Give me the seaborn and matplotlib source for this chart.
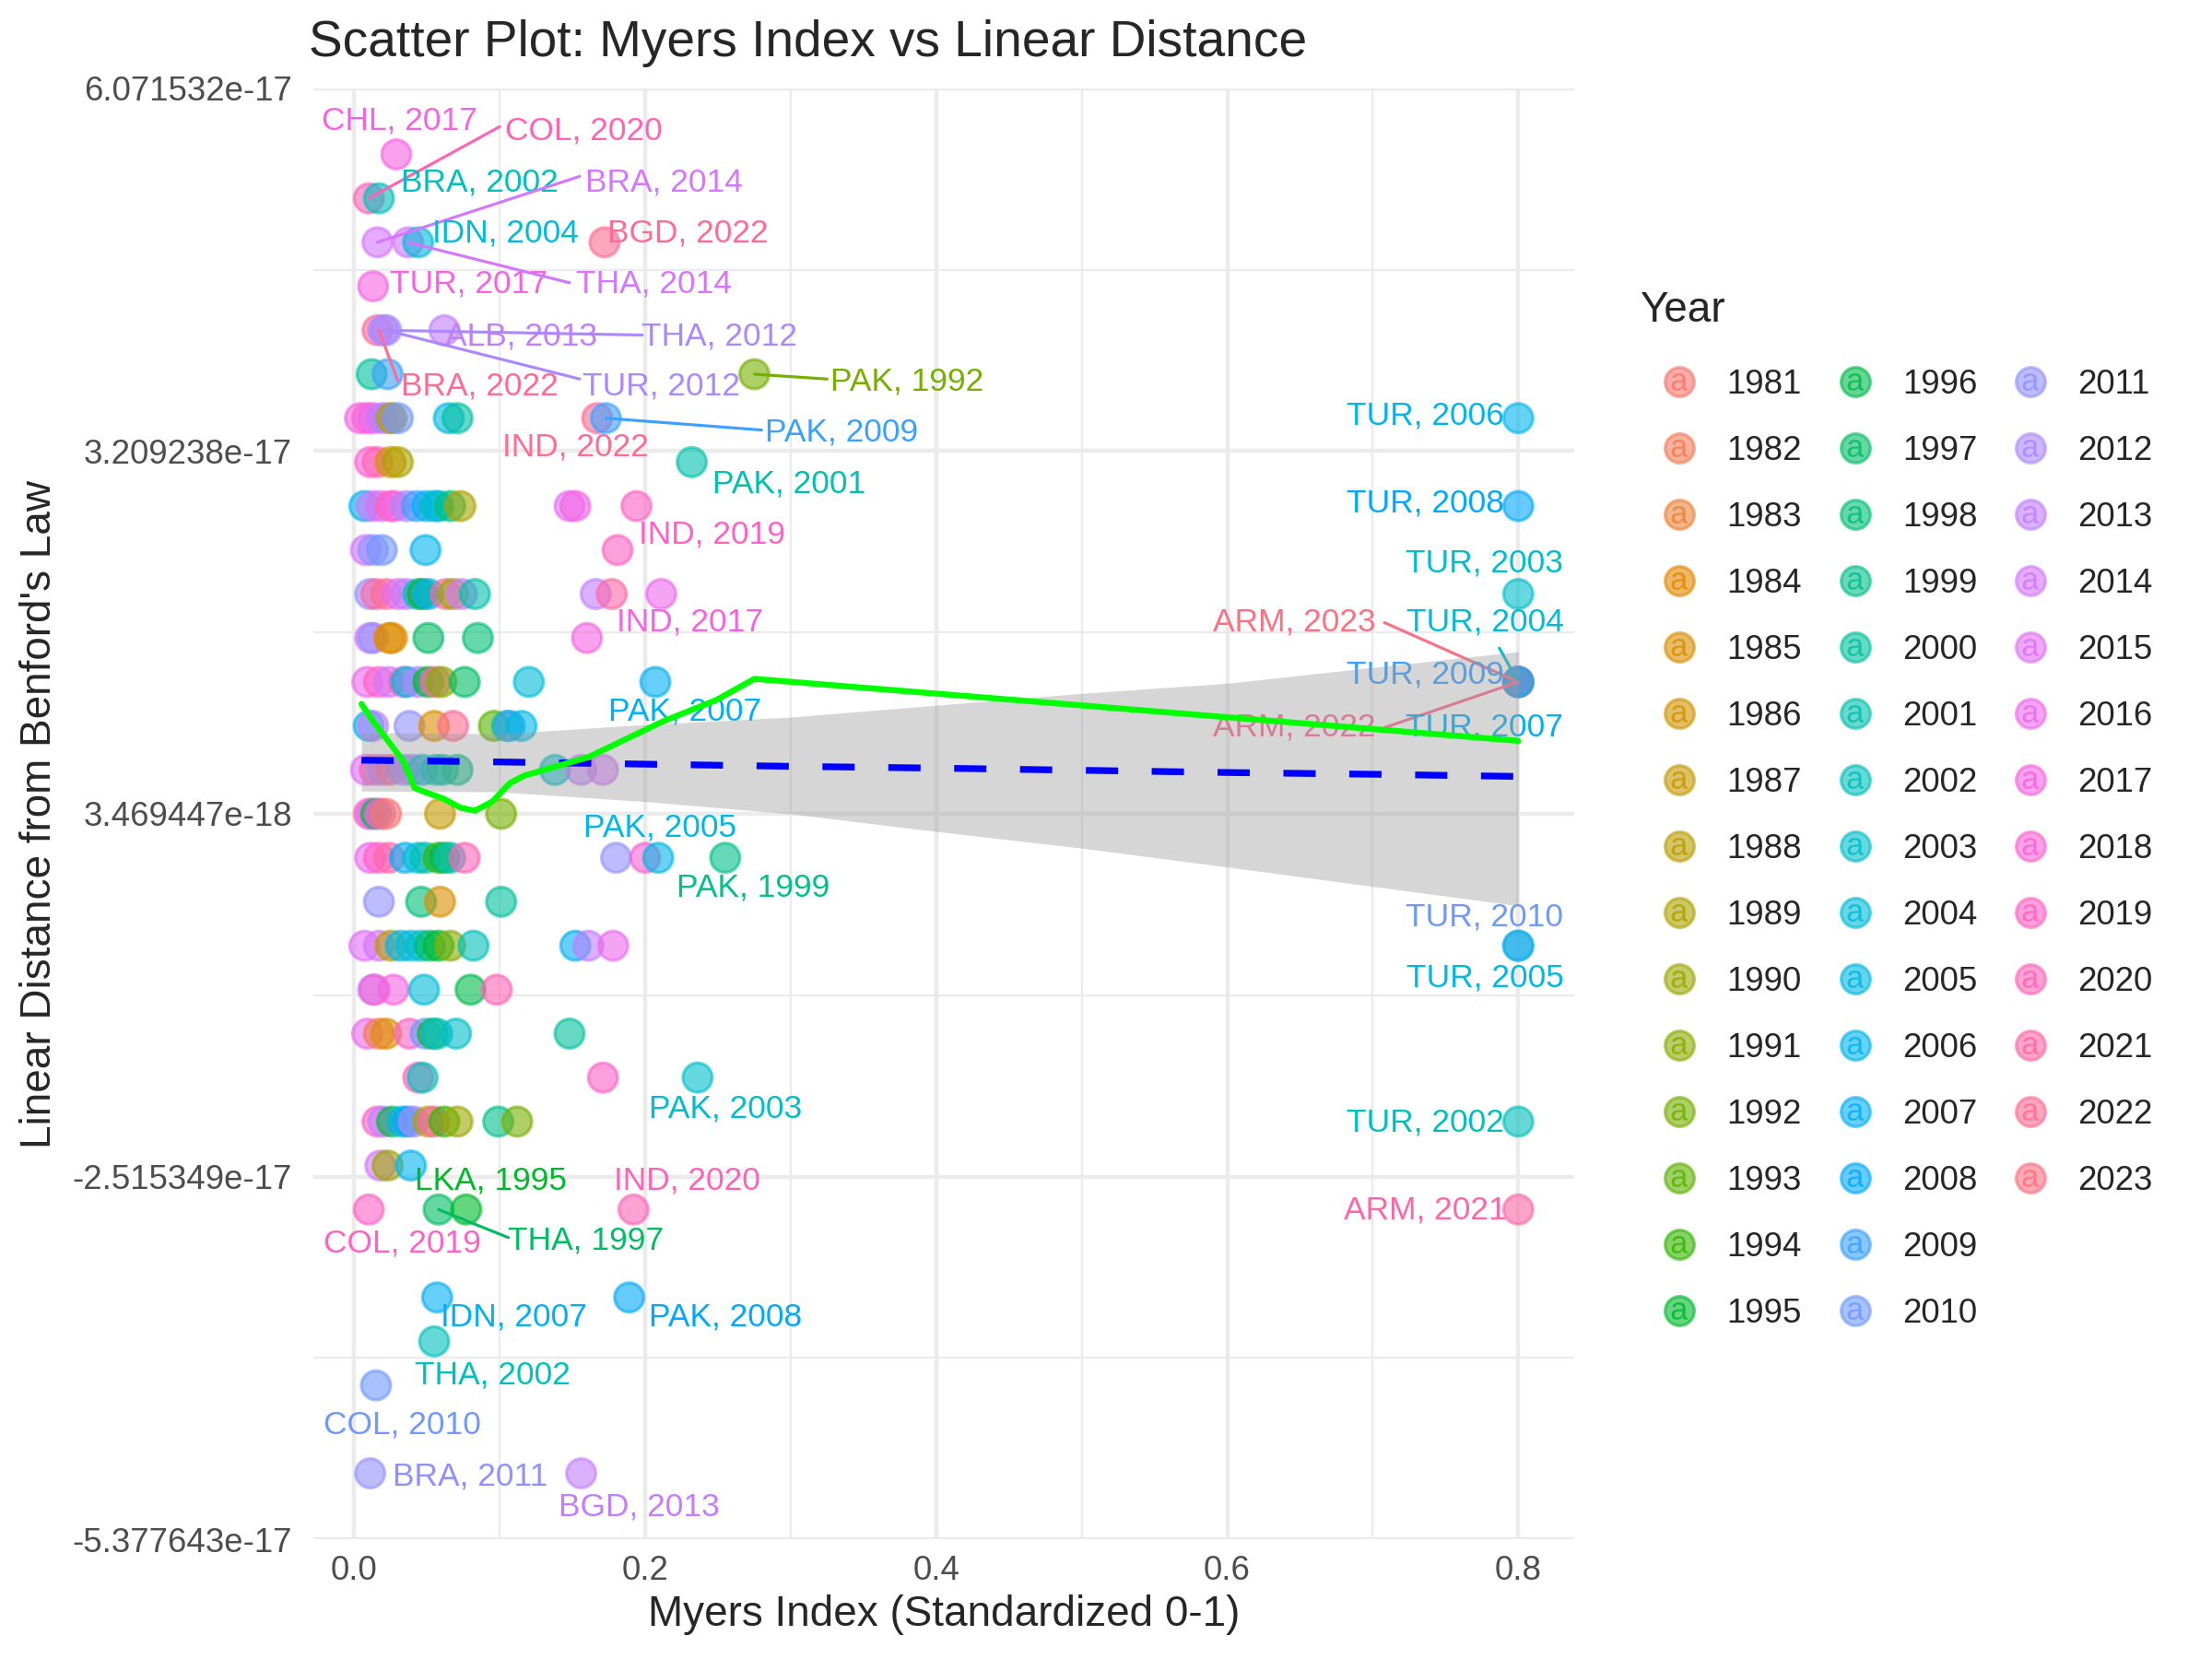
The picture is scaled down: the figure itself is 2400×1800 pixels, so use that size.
import numpy as np
import pandas as pd
import matplotlib
matplotlib.use("Agg")
import matplotlib.pyplot as plt
import seaborn as sns
from matplotlib.lines import Line2D
from matplotlib.legend_handler import HandlerTuple
from matplotlib.ticker import FixedLocator, FixedFormatter

# distances are tiny float-noise values, all multiples of 2^-58
UNIT = 2.0 ** -58

# one line per distance level (in units of 2^-58)
myers_index = [
    0.029,
    0.010, 0.017,
    0.016, 0.037, 0.044, 0.172,
    0.013,
    0.016, 0.020, 0.022, 0.062,
    0.012, 0.023, 0.275,
    0.004, 0.009, 0.013, 0.019, 0.024, 0.026, 0.030, 0.065, 0.071, 0.167, 0.173,
    0.011, 0.016, 0.025, 0.030, 0.232,
    0.007, 0.012, 0.018, 0.025, 0.028, 0.036, 0.043, 0.050, 0.056, 0.058, 0.066, 0.073, 0.148, 0.152, 0.194,
    0.008, 0.013, 0.019, 0.049, 0.181,
    0.011, 0.015, 0.022, 0.030, 0.036, 0.044, 0.047, 0.051, 0.063, 0.068, 0.074, 0.083, 0.166, 0.177, 0.211,
    0.011, 0.013, 0.024, 0.026, 0.051, 0.085, 0.160,
    0.009, 0.017, 0.024, 0.034, 0.036, 0.044, 0.051, 0.056, 0.060, 0.076, 0.120, 0.207,
    0.010, 0.013, 0.038, 0.055, 0.068, 0.096, 0.105, 0.107, 0.115,
    0.008, 0.014, 0.020, 0.025, 0.034, 0.040, 0.047, 0.056, 0.061, 0.071, 0.138, 0.156, 0.171,
    0.010, 0.012, 0.015, 0.018, 0.022, 0.059, 0.101,
    0.011, 0.017, 0.024, 0.035, 0.044, 0.049, 0.058, 0.062, 0.066, 0.076, 0.180, 0.200, 0.209, 0.255,
    0.017, 0.046, 0.059, 0.101,
    0.007, 0.017, 0.025, 0.032, 0.039, 0.046, 0.052, 0.058, 0.066, 0.082, 0.152, 0.161, 0.178,
    0.013, 0.014, 0.027, 0.048, 0.080, 0.098,
    0.009, 0.017, 0.022, 0.038, 0.049, 0.054, 0.057, 0.070, 0.148,
    0.044, 0.047, 0.171, 0.236,
    0.016, 0.020, 0.026, 0.033, 0.037, 0.041, 0.051, 0.055, 0.062, 0.071, 0.099, 0.112,
    0.018, 0.023, 0.039,
    0.010, 0.058, 0.077, 0.192,
    0.057, 0.189,
    0.055,
    0.015,
    0.011, 0.156,
    0.8, 0.8, 0.8, 0.8, 0.8, 0.8, 0.8, 0.8, 0.8, 0.8, 0.8, 0.8,
]

dist_level = (
    [16] * 1 + [15] * 2 + [14] * 4 + [13] * 1 + [12] * 4 + [11] * 3 + [10] * 11 + [9] * 5
    + [8] * 15 + [7] * 5 + [6] * 15 + [5] * 7 + [4] * 12 + [3] * 9 + [2] * 13 + [1] * 7
    + [0] * 14 + [-1] * 4 + [-2] * 13 + [-3] * 6 + [-4] * 9 + [-5] * 4 + [-6] * 12
    + [-7] * 3 + [-8] * 4 + [-10] * 2 + [-11] * 1 + [-12] * 1 + [-14] * 2
    + [10, 8, 6, 4, 4, 4, 4, 4, -2, -2, -6, -8]
)

year = [
    2017,
    2020, 2002,
    2014, 2014, 2004, 2022,
    2017,
    2022, 2012, 2012, 2013,
    2000, 2009, 1992,
    2017, 2018, 2016, 2013, 2011, 1988, 2010, 2005, 2000, 2022, 2009,
    2018, 2020, 1986, 1989, 2001,
    2006, 2013, 2015, 2020, 2017, 2012, 2009, 2007, 2001, 2005, 1998, 1989, 2015, 2017, 2019,
    2014, 2011, 2010, 2006, 2019,
    2011, 2021, 2022, 2015, 2013, 2003, 1995, 2007, 2021, 1990, 2014, 2001, 2013, 2021, 2016,
    2014, 2011, 1984, 1985, 1997, 1998, 2017,
    2016, 2019, 2014, 2020, 2005, 2012, 1995, 2021, 1991, 1997, 2004, 2007,
    2006, 2013, 2011, 1985, 2022, 1993, 2000, 2009, 2005,
    2015, 2019, 2013, 2022, 2011, 2012, 2003, 2002, 2000, 1999, 2003, 2013, 2014,
    2020, 2016, 1996, 2018, 1981, 1987, 1992,
    2016, 2019, 2021, 2007, 2004, 2001, 1994, 1996, 2002, 2020, 2011, 2018, 2005, 1999,
    2011, 1998, 1985, 2000,
    2015, 2014, 1988, 2006, 2004, 2003, 1997, 1995, 1991, 2002, 2007, 2013, 2016,
    2012, 2018, 2017, 2004, 1996, 2020,
    2016, 1982, 1985, 2019, 2010, 1996, 2002, 2003, 2000,
    2020, 2002, 2019, 2003,
    2019, 2013, 1996, 2005, 2008, 2012, 1988, 2021, 1994, 1990, 1999, 1992,
    2014, 1990, 2006,
    2019, 1997, 1995, 2020,
    2007, 2008,
    2002,
    2010,
    2011, 2013,
    2006, 2008, 2003, 2004, 2009, 2023, 2022, 2007, 2010, 2005, 2002, 2021,
]

years_all = list(range(1981, 2024))

# labelled points: text, year
label_text = ["CHL, 2017", "COL, 2020", "BRA, 2002", "BRA, 2014", "IDN, 2004", "BGD, 2022",
              "TUR, 2017", "THA, 2014", "ALB, 2013", "THA, 2012", "BRA, 2022", "TUR, 2012",
              "PAK, 1992", "PAK, 2009", "IND, 2022", "PAK, 2001", "IND, 2019", "IND, 2017",
              "PAK, 2007", "PAK, 2005", "PAK, 1999", "PAK, 2003", "LKA, 1995", "IND, 2020",
              "COL, 2019", "THA, 1997", "IDN, 2007", "PAK, 2008", "THA, 2002", "COL, 2010",
              "BRA, 2011", "BGD, 2013", "TUR, 2006", "TUR, 2008", "TUR, 2003", "ARM, 2023",
              "TUR, 2004", "TUR, 2009", "ARM, 2022", "TUR, 2007", "TUR, 2010", "TUR, 2005",
              "TUR, 2002", "ARM, 2021"]
label_year = [int(t[-4:]) for t in label_text]

# repel placement (text centre) and leader segments (point -> text edge)
label_pos = [(0.031, 16.76), (0.158, 16.53), (0.086, 15.37), (0.213, 15.37), (0.104, 14.2),
             (0.229, 14.2), (0.079, 13.05), (0.206, 13.05), (0.115, 11.86), (0.251, 11.86),
             (0.086, 10.73), (0.211, 10.73), (0.380, 10.83), (0.335, 9.67), (0.152, 9.35),
             (0.299, 8.51), (0.246, 7.35), (0.231, 5.35), (0.227, 3.32), (0.210, 0.68),
             (0.274, -0.68), (0.255, -5.7), (0.094, -7.35), (0.229, -7.35), (0.033, -8.77),
             (0.159, -8.7), (0.110, -10.44), (0.255, -10.44), (0.095, -11.76), (0.033, -12.89),
             (0.080, -14.08), (0.196, -14.76), (0.736, 10.05), (0.736, 8.06), (0.777, 6.7),
             (0.646, 5.35), (0.777, 5.35), (0.736, 4.16), (0.646, 2.96), (0.777, 2.96),
             (0.777, -1.35), (0.777, -2.74), (0.736, -6.03), (0.736, -8.02)]
label_seg = {
    "COL, 2020": (0.010, 15, 0.100, 16.63),
    "BRA, 2014": (0.016, 14, 0.155, 15.5),
    "THA, 2014": (0.037, 14, 0.148, 13.08),
    "THA, 2012": (0.020, 12, 0.198, 11.89),
    "BRA, 2022": (0.017, 12, 0.030, 10.85),
    "TUR, 2012": (0.022, 12, 0.155, 10.89),
    "PAK, 1992": (0.275, 11, 0.325, 10.89),
    "PAK, 2009": (0.173, 10, 0.280, 9.73),
    "THA, 1997": (0.058, -8, 0.106, -8.64),
    "ARM, 2023": (0.8, 4, 0.708, 5.35),
    "TUR, 2004": (0.8, 4, 0.787, 4.77),
    "ARM, 2022": (0.8, 4, 0.708, 2.96),
}

# loess smooth (green)
smooth_x = [0.005, 0.012, 0.020, 0.034, 0.0415, 0.049, 0.061, 0.073, 0.083, 0.095, 0.107,
            0.117, 0.139, 0.161, 0.183, 0.212, 0.249, 0.275, 0.8]
smooth_level = [3.50, 3.15, 2.80, 2.19, 1.59, 1.49, 1.35, 1.14, 1.07, 1.28, 1.70,
                1.87, 2.08, 2.29, 2.64, 3.10, 3.59, 4.07, 2.66]

# linear fit (blue dashed) and its 95% band
lm_x = [0.005, 0.1, 0.2, 0.3, 0.4, 0.5, 0.6, 0.7, 0.8]
lm_fit = [2.22, 2.18, 2.13, 2.08, 2.04, 1.99, 1.94, 1.90, 1.85]
lm_upper = [2.85, 2.82, 3.03, 3.20, 3.47, 3.74, 3.97, 4.33, 4.69]
lm_lower = [1.52, 1.50, 1.28, 1.00, 0.60, 0.22, -0.21, -0.65, -1.09]


def hue_pal(n, c=100.0, l=65.0):
    # ggplot2 default discrete palette (polar Luv -> sRGB, as grDevices::hcl)
    hues = np.linspace(15, 375, n + 1)[:-1]
    out = []
    for h in hues:
        hr = np.deg2rad(h)
        U, V = c * np.cos(hr), c * np.sin(hr)
        Y = 100.0 * ((l + 16) / 116) ** 3
        u = U / (13 * l) + 0.1978398
        v = V / (13 * l) + 0.4683363
        X = 9.0 * Y * u / (4 * v)
        Z = -X / 3 - 5 * Y + 3 * Y / v
        rgb = []
        for a, b, cc in [(3.240479, -1.537150, -0.498535), (-0.969256, 1.875992, 0.041556),
                         (0.055648, -0.204043, 1.057311)]:
            t = (a * X + b * Y + cc * Z) / 100.0
            t = 1.055 * t ** (1 / 2.4) - 0.055 if t > 0.00304 else 12.92 * t
            rgb.append(min(max(t, 0.0), 1.0))
        out.append(tuple(rgb))
    return out


palette = dict(zip(years_all, hue_pal(len(years_all))))

df = pd.DataFrame({"myers": myers_index,
                   "dist": np.array(dist_level) * UNIT,
                   "Year": year})

sns.set_style("white")
plt.rcParams["font.family"] = ["Liberation Sans", "DejaVu Sans"]

fig = plt.figure(figsize=(8, 6), dpi=300)
ax = fig.add_axes([0.1417, 0.0722, 0.57, 0.8745])

sns.scatterplot(data=df, x="myers", y="dist", hue="Year", palette=palette, legend=False,
                s=58, alpha=0.6, edgecolor="face", linewidth=0.8, ax=ax, zorder=3)

for i, txt in enumerate(label_text):
    col = palette[label_year[i]]
    tx, tl = label_pos[i]
    ax.text(tx, tl * UNIT, txt, color=col, fontsize=8.5, ha="center", va="center", zorder=4)
    if txt in label_seg:
        x0, l0, x1, l1 = label_seg[txt]
        ax.plot([x0, x1], [l0 * UNIT, l1 * UNIT], color=col, lw=0.75, zorder=4)

ax.fill_between(lm_x, np.array(lm_lower) * UNIT, np.array(lm_upper) * UNIT,
                color="#999999", alpha=0.4, lw=0, zorder=5)
sns.lineplot(x=lm_x, y=np.array(lm_fit) * UNIT, color="blue", lw=1.75, ax=ax,
             dashes=False, zorder=6).lines[-1].set_dashes((4.8, 5.0))
sns.lineplot(x=smooth_x, y=np.array(smooth_level) * UNIT, color="#00FF00", lw=1.55,
             sort=False, estimator=None, ax=ax, zorder=6)

ylo, yhi = -15.5 * UNIT, 17.5 * UNIT
yt = np.linspace(ylo, yhi, 5)
ax.set_ylim(ylo, yhi)
ax.set_xlim(-0.028, 0.8385)
ax.yaxis.set_major_locator(FixedLocator(yt))
ax.yaxis.set_major_formatter(FixedFormatter(["{:.6e}".format(v) for v in yt]))
ax.yaxis.set_minor_locator(FixedLocator((yt[:-1] + yt[1:]) / 2))
ax.set_xticks([0.0, 0.2, 0.4, 0.6, 0.8])
ax.set_xticklabels(["0.0", "0.2", "0.4", "0.6", "0.8"])
ax.set_xticks([0.1, 0.3, 0.5, 0.7], minor=True)
ax.grid(which="major", color="#EBEBEB", lw=1.07, zorder=0)
ax.grid(which="minor", color="#EBEBEB", lw=0.53, zorder=0)
ax.set_axisbelow(True)
for sp in ax.spines.values():
    sp.set_visible(False)
ax.tick_params(which="both", length=0, labelsize=8.8, labelcolor="#4D4D4D")
ax.tick_params(axis="y", pad=5.5)
ax.tick_params(axis="x", pad=4)
ax.set_xlabel("")
ax.set_ylabel("")

fig.text(0.1396, 0.974, "Scatter Plot: Myers Index vs Linear Distance", fontsize=13.2,
         ha="left", va="center")
fig.text(0.4267, 0.0267, "Myers Index (Standardized 0-1)", fontsize=11, ha="center", va="center")
fig.text(0.018, 0.509, "Linear Distance from Benford's Law", fontsize=11, rotation=90,
         ha="center", va="center")

# legend: circle with the text-key "a" laid over it
handles, names = [], []
for yr in years_all:
    c = palette[yr]
    dot = Line2D([], [], marker="o", ls="", markersize=7.6, markerfacecolor=c,
                 markeredgecolor=c, alpha=0.6, markeredgewidth=0.8)
    let = Line2D([], [], marker=r"$\mathregular{a}$", ls="", markersize=4.5,
                 color=c, alpha=0.85, markeredgewidth=0)
    handles.append((dot, let))
    names.append(str(yr))
for _ in range(2):
    handles.append(Line2D([], [], ls="", marker=""))
    names.append("")

fig.text(0.7412, 0.8127, "Year", fontsize=11, ha="left", va="center")
fig.legend(handles, names, handler_map={tuple: HandlerTuple(ndivide=1)}, ncol=3,
           loc="upper left", bbox_to_anchor=(0.7425, 0.7881), frameon=False, fontsize=8.8,
           handlelength=1.2, handletextpad=0.8, columnspacing=0.97, labelspacing=1.01,
           borderpad=0)

fig.savefig("out.png", dpi=300, facecolor="white")
